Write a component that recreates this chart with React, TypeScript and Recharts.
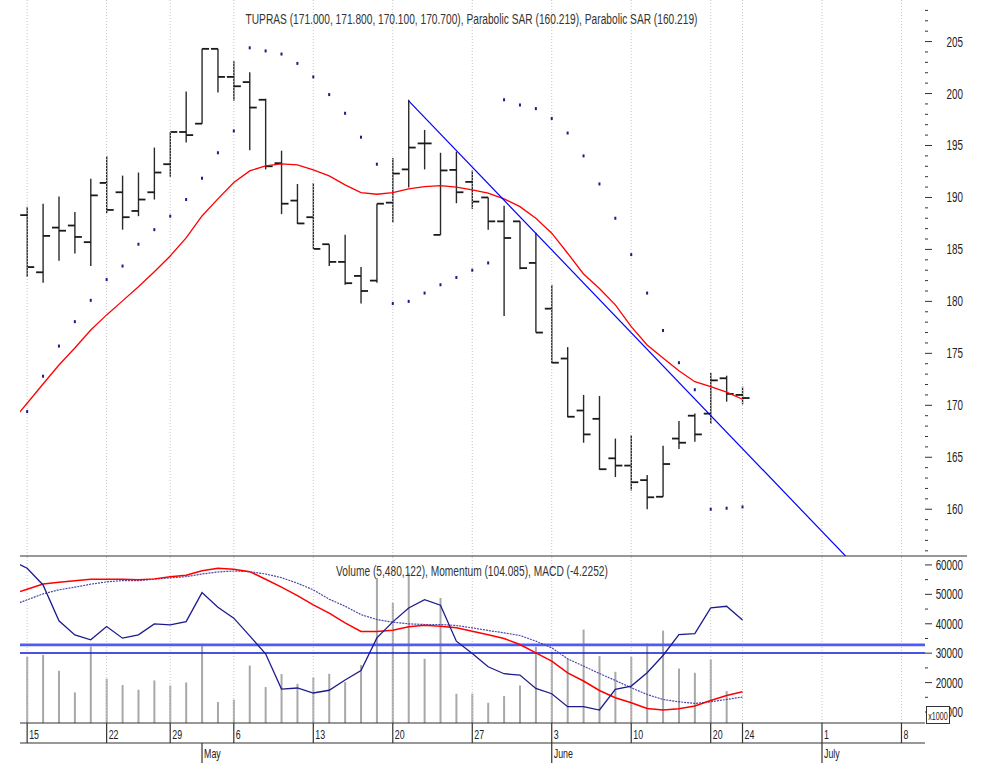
import React from 'react'
import {
  ComposedChart,
  Bar,
  Line,
  Scatter,
  XAxis,
  YAxis,
  ReferenceLine,
} from 'recharts'

// TUPRAS daily bars, 15 Apr .. 24 Jun (trading-day index 0..45)
const opens = [
  188.3, 182.8, 187.1, 187.3, 185.7, 191.4, 190.5, 188.7, 190.5, 193.2,
  196.3, 197.1, 204.3, 201.6, 201.1, 199.4, 193.3, 189.7, 188.1, 185.5,
  183.8, 182.45, 182.0, 189.5, 192.7, 195.2, 186.4, 192.65, 191.5, 190.0,
  187.7, 187.7, 183.7, 179.3, 174.5, 169.5, 168.7, 164.9, 164.2, 162.8,
  161.2, 166.8, 169.0, 169.2, 172.6, 171.0,
]
const highs = [
  189.1, 189.4, 190.1, 188.6, 191.8, 194.0, 192.1, 192.4, 194.8, 196.3,
  200.2, 204.3, 204.3, 203.1, 202.05, 199.5, 194.5, 191.3, 191.4, 185.5,
  186.4, 183.3, 189.4, 193.8, 199.4, 196.5, 194.3, 194.4, 192.6, 190.0,
  189.2, 187.7, 186.6, 181.6, 175.6, 171.0, 170.9, 166.8, 167.15, 163.3,
  166.1, 168.5, 169.2, 173.1, 172.85, 171.8,
]
const lows = [
  182.35, 181.8, 183.9, 184.6, 183.4, 188.5, 186.9, 188.2, 189.8, 192.0,
  195.3, 197.1, 200.1, 199.3, 194.55, 192.7, 188.4, 187.45, 185.05, 183.4,
  181.6, 179.8, 181.8, 187.6, 190.95, 192.7, 186.4, 189.45, 188.9, 186.9,
  178.6, 183.1, 177.0, 174.05, 168.85, 166.4, 163.8, 163.1, 161.8, 160.0,
  161.2, 165.8, 166.5, 168.2, 170.35, 170.1,
]
const closes = [
  183.3, 186.3, 186.8, 186.2, 190.2, 188.8, 188.1, 189.8, 192.4, 196.3,
  196.0, 204.3, 201.6, 200.7, 198.65, 193.0, 189.4, 187.5, 185.05, 183.8,
  181.75, 181.0, 189.4, 192.3, 194.8, 195.2, 192.6, 190.5, 189.6, 187.7,
  186.1, 183.2, 177.0, 174.1, 168.9, 167.2, 163.85, 164.2, 162.6, 161.15,
  164.35, 166.4, 167.2, 172.4, 171.1, 170.7,
]
const sar = [
  169.4, 172.8, 175.7, 178.05, 180.1, 182.1, 183.4, 185.5, 186.9, 188.2,
  189.8, 191.85, 194.3, 196.4, 204.4, 204.1, 203.8, 202.9, 201.6, 199.9,
  198.1, 195.8, 193.2, 179.8, 180.0, 180.8, 181.6, 182.3, 183.0, 183.7,
  199.4, 198.9, 198.55, 197.6, 196.2, 194.0, 191.3, 188.0, 184.5, 180.8,
  177.2, 174.1, 171.5, 160.0, 160.1, 160.219,
]
// indicator series start one session earlier (index -1)
const ma = [
  168.4, 170.2, 172.05, 173.88, 175.52, 177.25, 178.7, 180.05, 181.41, 182.86,
  184.37, 186.11, 188.22, 189.86, 191.43, 192.56, 193.04, 193.23, 193.13, 192.65,
  192.07, 191.21, 190.47, 190.31, 190.47, 190.82, 191.04, 191.14, 190.99, 190.73,
  190.41, 189.86, 189.12, 188.0, 186.56, 184.63, 182.64, 181.24, 179.66, 177.57,
  175.81, 174.56, 173.33, 172.27, 171.79, 171.26, 170.58,
]
const momentum = [
  111.5, 110.51, 108.44, 103.99, 102.25, 101.63, 103.28, 101.84, 102.25, 103.61,
  103.49, 103.9, 107.49, 105.68, 104.32, 102.13, 99.9, 95.53, 95.66, 95.04,
  95.38, 96.65, 97.83, 101.88, 103.86, 105.59, 106.62, 105.93, 101.47, 99.94,
  98.29, 97.43, 97.26, 95.61, 94.95, 93.34, 93.34, 92.93, 95.48, 95.9,
  97.55, 99.69, 102.29, 102.41, 105.59, 105.8, 104.085,
]
const macd = [
  4.54, 5.01, 5.48, 5.64, 5.76, 5.91, 5.91, 5.91, 5.85, 5.94,
  6.14, 6.27, 6.68, 6.9, 6.81, 6.59, 5.91, 5.19, 4.43, 3.6,
  2.85, 1.98, 1.2, 1.2, 1.32, 1.62, 1.77, 1.68, 1.53, 1.23,
  0.9, 0.57, 0.03, -0.72, -1.47, -2.52, -3.26, -4.11, -4.77, -5.22,
  -5.73, -5.87, -5.76, -5.51, -5.01, -4.56, -4.2252,
]
const signal = [
  3.52, 4.05, 4.59, 4.95, 5.19, 5.46, 5.67, 5.78, 5.78, 5.91,
  6.03, 6.14, 6.38, 6.56, 6.65, 6.59, 6.38, 6.05, 5.55, 4.95,
  4.11, 3.48, 2.72, 2.28, 2.04, 1.89, 1.83, 1.83, 1.74, 1.53,
  1.29, 1.08, 0.84, 0.33, -0.27, -1.26, -1.92, -2.58, -3.21, -3.87,
  -4.47, -4.92, -5.13, -5.28, -5.13, -4.92, -4.7,
]
// volume in thousands
const volume = [
  28663, 29443, 24014, 16651, 32260, 21300, 19162, 17567, 20723, 19026,
  20044, 33176, 13393, 14174, 25813, 18483, 22895, 19603, 21741, 22996,
  20180, 25949, 55572, 47089, 57269, 28086, 48785, 16210, 16210, 13156,
  15429, 19026, 32158, 30461, 28086, 38029, 29003, 23675, 28663, 33278,
  37689, 24795, 23336, 27849, 17126, 5480,
]
// hand-drawn trend line anchors (index, price)
const trendIdx = [24, 56]
const trendVal = [199.3, 148.3]

const weekTicks = [0, 5, 9, 13, 18, 23, 28, 33, 38, 43, 45, 50, 55]
const dayLabels = ['15', '22', '29', '6', '13', '20', '27', '3', '10', '20', '24', '1', '8']
const monthTicks = [11, 33, 50]
const monthLabels = ['May', 'June', 'July']

const priceTicks: number[] = []
for (let p = 156; p <= 208; p++) priceTicks.push(p)
const volTicks: number[] = []
for (let v = 10000; v <= 60000; v += 5000) volTicks.push(v)

const rows: any[] = []
for (let i = -1; i <= 56; i++) {
  const row: any = { i }
  if (i >= 0 && i < opens.length) {
    row.open = opens[i]
    row.high = highs[i]
    row.low = lows[i]
    row.close = closes[i]
    row.sar = sar[i]
    row.vol = volume[i]
  }
  if (i + 1 < ma.length) {
    row.ma = ma[i + 1]
    row.mom = momentum[i + 1]
    row.macd = macd[i + 1]
    row.sig = signal[i + 1]
  }
  const t = trendIdx.indexOf(i)
  if (t >= 0) row.trend = trendVal[t]
  rows.push(row)
}

const FONT = '"Liberation Sans", Arial, Helvetica, sans-serif'
const SQUEEZE = 0.68
const X_DOMAIN: [number, number] = [-0.45, 56.48]
const AXIS_X = 925

function NarrowText({ x, y, anchor = 'start', size, fill = '#222', children }: any) {
  return (
    <text
      transform={`translate(${x},${y}) scale(${SQUEEZE},1)`}
      textAnchor={anchor}
      fontSize={size}
      fontFamily={FONT}
      fill={fill}
    >
      {children}
    </text>
  )
}

function OhlcShape(props: any) {
  const { x, y, width, height, payload } = props
  if (!payload || payload.high == null || !Number.isFinite(y)) return null
  const cx = x + width / 2
  const yTop = Math.min(y, y + height)
  const yBot = Math.max(y, y + height)
  const span = payload.high - payload.low
  const py = (v: number) => (span === 0 ? yTop : yTop + ((payload.high - v) / span) * (yBot - yTop))
  return (
    <g>
      <line x1={cx} x2={cx} y1={yTop} y2={yBot} stroke="#2a2a2a" strokeWidth={1.4} />
      <line x1={cx - 7} x2={cx} y1={py(payload.open)} y2={py(payload.open)} stroke="#1a1a1a" strokeWidth={1.8} />
      <line x1={cx} x2={cx + 7} y1={py(payload.close)} y2={py(payload.close)} stroke="#1a1a1a" strokeWidth={1.8} />
    </g>
  )
}

function SarShape(props: any) {
  const { cx, cy } = props
  if (!Number.isFinite(cx) || !Number.isFinite(cy)) return null
  return <rect x={cx - 1} y={cy - 1.5} width={2} height={3} fill="#1c1c86" />
}

function PriceTick(props: any) {
  const { y, payload } = props
  const v = payload.value
  const major = v % 5 === 0
  return (
    <g>
      <line x1={AXIS_X} x2={AXIS_X + (major ? 7 : 3)} y1={y} y2={y} stroke="#333" strokeWidth={1} />
      {major && (
        <NarrowText x={AXIS_X + 38} y={y + 5} anchor="end" size={14.5}>
          {v}
        </NarrowText>
      )}
    </g>
  )
}

function VolTick(props: any) {
  const { y, payload } = props
  const v = payload.value
  const major = v % 10000 === 0
  return (
    <g>
      <line x1={AXIS_X} x2={AXIS_X + (major ? 7 : 3)} y1={y} y2={y} stroke="#333" strokeWidth={1} />
      {major && (
        <NarrowText x={AXIS_X + 38} y={y + 5} anchor="end" size={14.5}>
          {v}
        </NarrowText>
      )}
    </g>
  )
}

function DayTick(props: any) {
  const { x, y, payload } = props
  const idx = weekTicks.indexOf(payload.value)
  return (
    <g>
      <line x1={x} x2={x} y1={y} y2={y + 20} stroke="#333" strokeWidth={1.2} />
      <NarrowText x={x + 2} y={y + 15.5} size={13}>
        {dayLabels[idx]}
      </NarrowText>
    </g>
  )
}

function MonthTick(props: any) {
  const { x, y, payload } = props
  const idx = monthTicks.indexOf(payload.value)
  return (
    <g>
      <line x1={x} x2={x} y1={y} y2={y + 20} stroke="#333" strokeWidth={1.2} />
      <NarrowText x={x + 2} y={y + 15} size={13}>
        {monthLabels[idx]}
      </NarrowText>
    </g>
  )
}

const gridStroke = '#c6c6c6'

export default function App() {
  return (
    <div style={{ position: 'absolute', left: 0, top: 0, width: 987, height: 763, background: '#fff' }}>
      <div style={{ position: 'absolute', left: 0, top: 0 }}>
        <ComposedChart width={987} height={556} data={rows} margin={{ top: 0, right: 0, bottom: 0, left: 20 }}>
          <XAxis dataKey="i" type="number" domain={X_DOMAIN} allowDataOverflow hide />
          <YAxis
            orientation="right"
            domain={[155.5, 209.0]}
            allowDataOverflow
            width={62}
            ticks={priceTicks}
            interval={0}
            tickSize={0}
            tickMargin={0}
            axisLine={false}
            tickLine={false}
            tick={<PriceTick />}
          />
          {weekTicks.map((t) => (
            <ReferenceLine key={t} x={t} stroke={gridStroke} strokeDasharray="1 2" />
          ))}
          <Bar
            dataKey={(d: any) => (d.high == null ? null : [d.low, d.high])}
            barSize={14}
            shape={<OhlcShape />}
            isAnimationActive={false}
          />
          <Line dataKey="ma" stroke="#ff0000" strokeWidth={1.3} dot={false} isAnimationActive={false} />
          <Line dataKey="trend" stroke="#0000ff" strokeWidth={1.2} dot={false} connectNulls isAnimationActive={false} />
          <Scatter dataKey="sar" shape={<SarShape />} isAnimationActive={false} />
        </ComposedChart>
      </div>
      <div style={{ position: 'absolute', left: 0, top: 556 }}>
        <ComposedChart width={987} height={207} data={rows} margin={{ top: 0, right: 0, bottom: 0, left: 20 }}>
          <XAxis
            dataKey="i"
            type="number"
            domain={X_DOMAIN}
            allowDataOverflow
            ticks={weekTicks}
            interval={0}
            height={20}
            tickSize={0}
            tickMargin={0}
            tickLine={false}
            axisLine={{ stroke: '#333', strokeWidth: 1.2 }}
            tick={<DayTick />}
          />
          <XAxis
            xAxisId="month"
            dataKey="i"
            type="number"
            domain={X_DOMAIN}
            allowDataOverflow
            ticks={monthTicks}
            interval={0}
            height={20}
            tickSize={0}
            tickMargin={0}
            tickLine={false}
            axisLine={{ stroke: '#333', strokeWidth: 1.2 }}
            tick={<MonthTick />}
          />
          <YAxis
            yAxisId="vol"
            orientation="right"
            domain={[6267, 63037]}
            allowDataOverflow
            width={62}
            ticks={volTicks}
            interval={0}
            tickSize={0}
            tickMargin={0}
            axisLine={false}
            tickLine={false}
            tick={<VolTick />}
          />
          <YAxis yAxisId="mom" orientation="right" domain={[91.32, 112.03]} allowDataOverflow hide />
          <YAxis yAxisId="macd" orientation="right" domain={[-7.04, 8.0]} allowDataOverflow hide />
          {weekTicks.map((t) => (
            <ReferenceLine key={t} x={t} yAxisId="vol" stroke={gridStroke} strokeDasharray="1 2" />
          ))}
          <Bar yAxisId="vol" dataKey="vol" barSize={2} fill="#a8a8a8" isAnimationActive={false} />
          <ReferenceLine yAxisId="macd" y={0} stroke="#4d5cf4" strokeWidth={2.6} />
          <ReferenceLine yAxisId="mom" y={100} stroke="#1414d6" strokeWidth={1.4} />
          <Line yAxisId="macd" dataKey="sig" stroke="#4848a8" strokeWidth={1.2} strokeDasharray="2 1" dot={false} isAnimationActive={false} />
          <Line yAxisId="macd" dataKey="macd" stroke="#ff0000" strokeWidth={1.5} dot={false} isAnimationActive={false} />
          <Line yAxisId="mom" dataKey="mom" stroke="#1c1c8c" strokeWidth={1.3} dot={false} isAnimationActive={false} />
        </ComposedChart>
      </div>
      <svg width={987} height={763} style={{ position: 'absolute', left: 0, top: 0, pointerEvents: 'none' }}>
        <line x1={20} x2={967} y1={556} y2={556} stroke="#333" strokeWidth={1.2} />
        <NarrowText x={471.5} y={24} anchor="middle" size={15} fill="#333">
          TUPRAS (171.000, 171.800, 170.100, 170.700), Parabolic SAR (160.219), Parabolic SAR (160.219)
        </NarrowText>
        <NarrowText x={472} y={576} anchor="middle" size={15} fill="#333">
          Volume (5,480,122), Momentum (104.085), MACD (-4.2252)
        </NarrowText>
        <rect x={926.5} y={706.5} width={23} height={17} fill="#fff" stroke="#333" strokeWidth={1} />
        <NarrowText x={938} y={719.5} anchor="middle" size={10.5} fill="#222">
          x1000
        </NarrowText>
      </svg>
    </div>
  )
}
